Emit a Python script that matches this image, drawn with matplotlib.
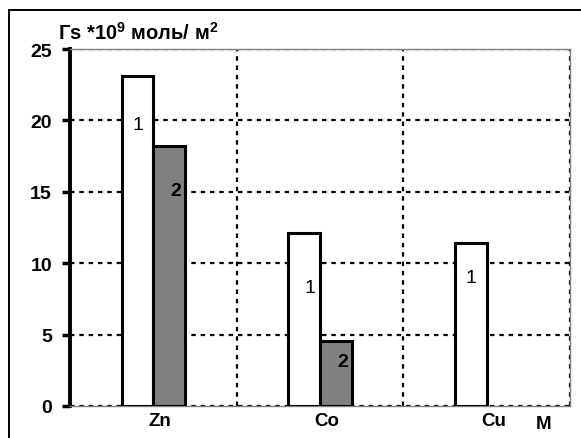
import matplotlib.pyplot as plt
import matplotlib.patches as mpatches
import numpy as np

plt.rcParams["font.family"] = ["Liberation Sans", "DejaVu Sans"]
plt.rcParams["mathtext.fontset"] = "custom"
plt.rcParams["mathtext.rm"] = "Liberation Sans"
plt.rcParams["mathtext.bf"] = "Liberation Sans:bold"

METALS = ["Zn", "Co", "Cu"]
SERIES_1 = [23.1, 12.1, 11.4]
SERIES_2 = [18.2, 4.55, 0.0]
BAR_LABELS = ["1", "2"]
# label anchors inside the bars: (x shift, value-axis height)
LABEL_1 = [(0.0, 19.7), (0.035, 8.3), (0.0, 9.0)]
LABEL_2 = [(0.04, 15.1), (0.04, 3.1), None]
Y_TICKS = [0, 5, 10, 15, 20, 25]

BAR_W = 0.19
GRID_STYLE = dict(color="black", linestyle=(0, (2, 2.2)), linewidth=1.6)


def main():
    fig = plt.figure(figsize=(5.81, 4.39), dpi=100)
    ax = fig.add_axes([0.1205, 0.0729, 0.8605, 0.8131])

    # outer frame, runs off the right and bottom edges
    fig.add_artist(mpatches.Rectangle(
        (0.0155, -1.0), 2.0, 1.975, transform=fig.transFigure,
        fill=False, edgecolor="black", linewidth=1.4))

    x = np.arange(len(METALS))
    ax.bar(x - BAR_W / 2, SERIES_1, width=BAR_W, color="white",
           edgecolor="black", linewidth=2.2, zorder=3)
    mask = np.array(SERIES_2) > 0
    ax.bar((x + BAR_W / 2)[mask], np.array(SERIES_2)[mask], width=BAR_W,
           color="#808080", edgecolor="black", linewidth=2.2, zorder=3)

    for i in range(len(METALS)):
        dx, y = LABEL_1[i]
        ax.text(x[i] - BAR_W / 2 + dx, y, BAR_LABELS[0],
                ha="center", va="center", fontsize=14, zorder=4)
        if LABEL_2[i] is not None:
            dx, y = LABEL_2[i]
            ax.text(x[i] + BAR_W / 2 + dx, y, BAR_LABELS[1],
                    ha="center", va="center", fontsize=14,
                    fontweight="bold", zorder=4)

    ax.set_xlim(-0.5, 2.5)
    ax.set_ylim(0, 25)
    ax.set_yticks(Y_TICKS)
    ax.set_yticklabels([str(t) for t in Y_TICKS], fontsize=14,
                       fontweight="bold")
    ax.set_xticks(x + 0.04)
    ax.set_xticklabels(METALS, fontsize=13.5, fontweight="bold")
    ax.set_xticks([0.5, 1.5, 2.5], minor=True)

    ax.tick_params(axis="x", which="both", length=0, pad=4)
    ax.tick_params(axis="y", length=6, width=2.5, pad=7, direction="out")

    ax.grid(axis="y", which="major", **GRID_STYLE, zorder=1)
    ax.grid(axis="x", which="minor", **GRID_STYLE, zorder=1)
    ax.set_axisbelow(True)

    ax.spines["left"].set_linewidth(2.8)
    ax.spines["left"].set_color("black")
    for side in ("top", "right", "bottom"):
        ax.spines[side].set_color("#808080")
        ax.spines[side].set_linewidth(1.0)

    ax.text(2.34, -0.025, "M", transform=ax.get_xaxis_transform(),
            ha="center", va="top", fontsize=13.5, fontweight="bold")

    fig.text(0.1, 0.926, r"Гs *10$^\mathbf{9}$ моль/ м$^\mathbf{2}$",
             ha="left", va="center", fontsize=14.5, fontweight="bold")

    fig.savefig("out.png", dpi=100)


if __name__ == "__main__":
    main()
